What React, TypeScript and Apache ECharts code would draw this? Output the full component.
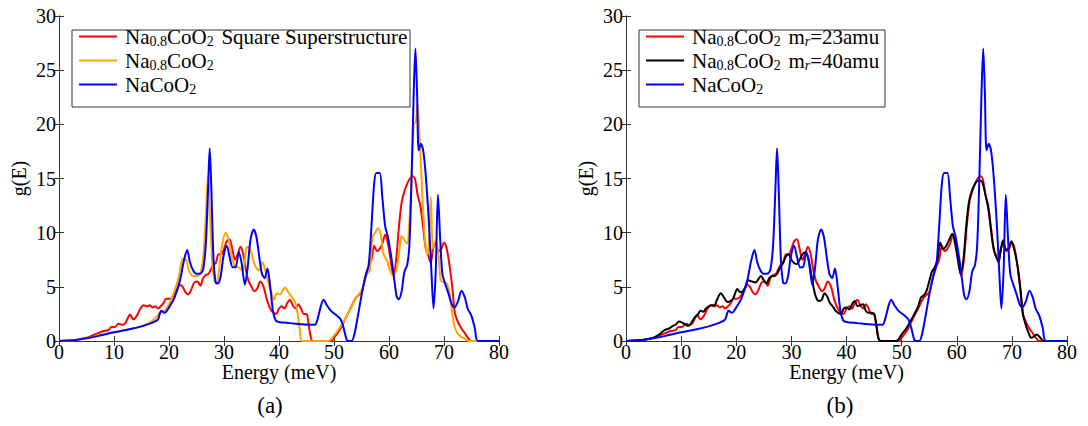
import React, { useEffect, useRef } from "react";
import * as echarts from "echarts";

type P = [number, number];

const nameSquare = "Na0.8CoO2 Square Superstructure";
const nameNa08 = "Na0.8CoO2";
const nameNa1 = "NaCoO2";
const nameM23 = "Na0.8CoO2 m_r=23amu";
const nameM40 = "Na0.8CoO2 m_r=40amu";

const naCoO2: P[] = [
  [0, 0], [3, 0.1], [5, 0.25], [7, 0.45], [10, 0.8], [13, 1.1], [15, 1.35], [17, 1.7], [18, 2.0], [18.6, 2.8], [19.2, 2.6],
  [20, 3.1], [21, 4.0], [22, 5.6], [22.7, 7.4], [23.3, 8.4], [23.8, 7.3], [24.4, 6.5], [25, 6.2], [25.6, 6.2], [26.2, 6.6],
  [26.7, 9], [27.1, 14], [27.4, 17.8], [27.7, 14], [28.1, 7.5], [28.5, 5.4], [28.9, 5.3], [29.4, 6], [29.9, 7.8], [30.5, 8.8],
  [31, 7.8], [31.6, 6.8], [32.1, 6.8], [32.7, 8.2], [33.2, 7.2], [33.8, 5.2], [34.3, 6.8], [34.8, 9.3], [35.4, 10.3], [35.9, 9.6],
  [36.4, 7.8], [36.9, 6.2], [37.4, 5.8], [37.9, 6.7], [38.4, 5], [38.9, 2.8], [39.4, 1.9], [40, 1.75], [42, 1.65], [44, 1.55],
  [46.5, 1.5], [47, 2.0], [47.6, 3.2], [48.1, 3.8], [48.7, 3.3], [49.4, 2.8], [50.4, 2.4], [51.2, 2.0], [51.7, 1.3], [52.3, 0.1],
  [52.6, 0], [53.2, 0], [53.7, 0.6], [54.3, 2.2], [55, 4.2], [55.7, 5.9], [56.3, 7], [56.8, 10.5], [57.3, 14.5], [57.7, 15.5],
  [58.3, 15.5], [58.8, 13.2], [59.3, 10.6], [59.8, 9.6], [60.4, 7.8], [61, 5.5], [61.4, 4.1], [61.8, 3.85], [62.3, 4.6], [62.8, 6.4],
  [63.3, 7.0], [63.7, 8.8], [64.1, 15], [64.5, 23], [64.8, 27], [65.1, 23], [65.4, 17.6], [65.8, 18.2], [66.3, 17.3], [66.8, 14.5],
  [67.3, 10.5], [67.7, 6.5], [68.1, 3.0], [68.5, 6.5], [68.9, 13.5], [69.3, 9.5], [69.7, 6.2], [70.2, 5.3], [70.8, 4.4], [71.4, 3.4],
  [71.9, 3.1], [72.5, 3.6], [73.2, 4.65], [73.8, 4.0], [74.3, 3.0], [75, 2.3], [75.6, 1.2], [76.2, 0], [80, 0],
];

const na08CoO2: P[] = [
  [0, 0], [3, 0.1], [5, 0.25], [7, 0.45], [10, 0.8], [13, 1.1], [15, 1.35], [16.5, 1.7], [17.5, 2.1], [18.3, 2.6], [19.2, 2.8],
  [20, 3.4], [21, 4.6], [21.8, 6], [22.5, 7.6], [23.1, 7.5], [23.7, 6.4], [24.4, 6.0], [25.2, 6.0], [25.8, 6.4], [26.3, 8.2],
  [26.8, 12.5], [27.1, 15.3], [27.5, 11], [27.9, 7], [28.3, 5.5], [28.7, 5.4], [29.2, 7], [29.7, 9.0], [30.3, 10.0], [30.8, 9.5],
  [31.4, 7.8], [32, 6.9], [32.7, 6.8], [33.4, 6.5], [33.8, 7.5], [34.2, 8.7], [34.7, 8.6], [35.3, 7.5], [35.8, 6.8], [36.4, 6.5],
  [37, 7.3], [37.5, 6.5], [38, 5.5], [38.6, 4.5], [39.1, 3.8], [39.6, 4.4], [40.2, 4.3], [40.7, 4.7], [41.1, 4.95], [41.7, 4.5],
  [42.4, 4.0], [43, 3.5], [43.4, 2.5], [43.8, 1.0], [44.2, 0], [49, 0], [50, 0.5], [51, 1.2], [52, 2.0], [53, 3.0], [54, 4.0],
  [54.8, 4.5], [55.4, 5.2], [56, 6.2], [56.5, 6.5], [57, 9.6], [57.5, 10.0], [58, 10.4], [58.5, 9.8], [59, 8.0], [59.6, 7.5],
  [60.2, 6.5], [60.8, 6.0], [61.3, 6.5], [61.8, 8.0], [62.3, 9.7], [62.8, 9.3], [63.3, 9.0], [63.7, 11], [64.1, 15], [64.5, 20],
  [64.9, 20.3], [65.2, 22], [65.6, 18.5], [66.1, 13], [66.6, 9], [67.0, 8], [67.3, 9.5], [67.6, 13.3], [68, 8.5], [68.5, 9.3],
  [69, 8], [69.4, 5.6], [70, 5.4], [70.5, 5.3], [71, 4.5], [71.5, 2.5], [72, 1.2], [72.8, 0.5], [73.8, 0.2], [74.5, 0], [80, 0],
];

const squareSuper: P[] = [
  [0, 0], [3, 0.1], [5, 0.3], [6, 0.5], [7, 0.7], [8, 0.9], [9, 1.0], [9.5, 1.3], [10.2, 1.3], [10.8, 1.6], [11.5, 1.5], [12, 1.6],
  [12.5, 2.1], [12.9, 2.45], [13.5, 2.0], [14.1, 2.3], [14.8, 3.0], [15.4, 3.3], [16, 3.2], [16.5, 3.3], [17, 3.1], [17.5, 3.2],
  [18, 3.0], [18.5, 3.2], [19, 3.5], [19.5, 3.9], [20, 3.9], [20.5, 4.0], [21, 4.3], [21.5, 4.8], [22, 5.2], [22.5, 5.0], [23, 4.5],
  [23.5, 4.3], [24, 4.7], [24.6, 5.4], [25.2, 5.5], [25.7, 5.1], [26.2, 5.8], [26.7, 6.1], [27.2, 6.2], [27.6, 6.6], [28, 7.0],
  [28.5, 7.2], [29, 8.0], [29.5, 8.0], [30, 8.5], [30.5, 9.2], [31, 9.4], [31.5, 8.5], [32, 7.5], [32.5, 8.0], [33, 8.7],
  [33.5, 8.0], [34, 6.5], [34.5, 5.5], [35, 5.0], [35.5, 4.6], [36, 4.8], [36.6, 5.5], [37.2, 5.0], [37.8, 3.8], [38.4, 3.0],
  [39, 2.6], [39.5, 2.5], [40, 3.0], [40.5, 3.2], [41, 3.0], [41.5, 3.5], [42, 3.8], [42.5, 3.3], [43, 3.0], [43.5, 3.4], [44, 3.0],
  [44.5, 2.5], [45, 2.5], [45.4, 1.5], [45.8, 0.3], [46.2, 0], [49.5, 0], [50, 0.3], [51, 1.0], [52, 2.0], [53, 3.0], [54, 4.0],
  [55, 4.5], [55.5, 5.5], [56, 6.5], [56.8, 7.5], [57.3, 8.8], [57.8, 8.3], [58.3, 8.5], [58.8, 9.0], [59.3, 9.8], [59.8, 9.0],
  [60.3, 7.5], [60.8, 6.0], [61.3, 7.5], [61.8, 10.5], [62.3, 12.8], [62.8, 13.8], [63.3, 14.5], [63.8, 15.0], [64.3, 15.2],
  [64.7, 15.0], [65.2, 13.5], [65.7, 12.5], [66.2, 10.5], [66.7, 8.5], [67.2, 7.8], [67.6, 7.2], [68, 8.5], [68.5, 9.0], [69, 8.3],
  [69.5, 8.5], [70, 9.1], [70.5, 8.5], [71, 7.0], [71.5, 5.0], [72, 2.5], [72.5, 1.8], [73, 1.3], [73.8, 0.7], [74.5, 0.2], [75, 0], [80, 0],
];

const mr40: P[] = [
  [0, 0], [3, 0.1], [5, 0.3], [6, 0.6], [7, 1.0], [8, 1.2], [8.5, 1.4], [9, 1.5], [9.6, 1.8], [10.2, 1.7], [10.8, 1.5], [11.4, 1.4],
  [12, 1.8], [12.5, 2.2], [13, 2.4], [13.5, 2.8], [14, 2.7], [14.5, 3.0], [15, 3.2], [15.5, 3.3], [16, 3.3], [16.5, 3.8], [17.2, 4.4],
  [17.8, 4.0], [18.4, 3.6], [19, 3.7], [19.5, 4.0], [20.2, 4.8], [20.7, 4.5], [21.2, 4.6], [21.7, 5.0], [22.2, 5.6], [22.8, 5.5],
  [23.5, 5.4], [24, 5.7], [24.5, 6.0], [25, 5.6], [25.5, 5.3], [26, 5.8], [26.5, 6.0], [27, 6.0], [27.5, 6.3], [28, 6.8], [28.5, 7.2],
  [29, 7.8], [29.5, 8.0], [30, 7.5], [30.5, 7.2], [31, 7.1], [31.5, 7.5], [32, 8.0], [32.5, 8.2], [33, 7.8], [33.5, 6.5], [34, 5.0],
  [34.5, 4.0], [35, 3.7], [35.5, 3.8], [36, 4.4], [36.5, 4.1], [37, 3.5], [37.5, 3.2], [38, 2.8], [38.5, 2.6], [39, 2.5], [39.5, 3.0],
  [40, 3.1], [40.5, 2.9], [41, 3.4], [41.5, 3.7], [42, 3.2], [42.5, 3.3], [43, 3.4], [43.5, 2.8], [44, 2.6], [44.5, 2.6], [45, 2.5],
  [45.4, 1.5], [45.8, 0.2], [46.2, 0], [49, 0], [50, 0.6], [51, 1.3], [52, 2.2], [53, 3.2], [53.5, 4.0], [54, 4.2], [54.5, 4.6],
  [55, 5.5], [55.5, 6.4], [56, 6.8], [56.5, 7.5], [57, 9.1], [57.5, 8.5], [58, 8.7], [58.5, 9.2], [59.2, 9.9], [59.7, 9.0], [60.2, 7.5],
  [60.7, 6.2], [61.2, 7.5], [61.7, 10.5], [62.2, 12.8], [62.7, 13.8], [63.3, 14.5], [63.8, 14.8], [64.3, 14.8], [64.7, 14.6],
  [65.2, 13.5], [65.7, 12.3], [66.2, 10.3], [66.7, 8.5], [67.2, 7.7], [67.6, 7.4], [68, 8.5], [68.4, 9.3], [68.9, 8.4], [69.4, 8.6],
  [69.9, 9.2], [70.4, 8.5], [71, 7.0], [71.5, 5.0], [72, 2.5], [72.5, 1.5], [73, 0.8], [73.5, 0.3], [74, 0.4], [74.5, 0.6], [75, 0.4],
  [75.5, 0.1], [76, 0], [80, 0],
];

const FONT = "Liberation Serif";
const AXIS_COLOR = "#333";

const legendRich = {
  n: { fontFamily: FONT, fontSize: 21, lineHeight: 24, color: "#000" },
  g: { fontFamily: FONT, fontSize: 10, lineHeight: 10, color: "#000" },
  s: { fontFamily: FONT, fontSize: 14, lineHeight: 11, verticalAlign: "bottom", color: "#000" },
  si: { fontFamily: FONT, fontSize: 14, lineHeight: 11, verticalAlign: "bottom", fontStyle: "italic", color: "#000" },
};

function legendLabel(name: string): string {
  const na08 = "{n|Na}{s|0.8}{n|CoO}{s|2}";
  if (name === nameSquare) return na08 + "{n| }{g| }{n|Square Superstructure}";
  if (name === nameNa08) return na08;
  if (name === nameNa1) return "{n|NaCoO}{s|2}";
  if (name === nameM23) return na08 + "{n| }{g| }{n|m}{si|r}{n|=23amu}";
  if (name === nameM40) return na08 + "{n| }{g| }{n|m}{si|r}{n|=40amu}";
  return name;
}

const axisLineStyle = { show: true, lineStyle: { color: AXIS_COLOR, width: 1 } };
const axisTickStyle = { show: true, inside: true, length: 5, lineStyle: { color: AXIS_COLOR } };
const labelStyle = { show: true, margin: 3, fontFamily: FONT, fontSize: 20, lineHeight: 16, color: "#000" };
const nameStyle = { fontFamily: FONT, fontSize: 20, lineHeight: 20, color: "#000" };

function xAxes(grid: number) {
  const common = {
    gridIndex: grid, type: "value", min: 0, max: 80, interval: 10,
    splitLine: { show: false }, axisLine: axisLineStyle, axisTick: axisTickStyle,
  };
  return [
    {
      ...common, position: "bottom",
      name: "Energy (meV)", nameLocation: "middle", nameGap: 21, nameMoveOverlap: false,
      nameTextStyle: nameStyle, axisLabel: labelStyle,
    },
    { ...common, position: "top", axisLabel: { show: false } },
  ];
}

function yAxes(grid: number) {
  const common = {
    gridIndex: grid, type: "value", min: 0, max: 30, interval: 5,
    splitLine: { show: false }, axisLine: axisLineStyle, axisTick: axisTickStyle,
  };
  return [
    {
      ...common, position: "left",
      name: "g(E)", nameLocation: "middle", nameRotate: 90, nameGap: 30, nameMoveOverlap: false,
      nameTextStyle: nameStyle, axisLabel: labelStyle,
    },
    { ...common, position: "right", axisLabel: { show: false } },
  ];
}

function lineSeries(name: string, data: P[], color: string, xi: number, yi: number, z: number) {
  return {
    type: "line", name, data, xAxisIndex: xi, yAxisIndex: yi,
    showSymbol: false, symbol: "none", smooth: 0.3, z,
    lineStyle: { color, width: 2 }, itemStyle: { color },
  };
}

function legendFor(names: string[], left: number) {
  return {
    data: names, orient: "vertical", left, top: 26,
    icon: "rect", itemWidth: 38, itemHeight: 2, itemGap: 1.5, padding: 0,
    selectedMode: false, formatter: legendLabel,
    textStyle: { fontFamily: FONT, padding: [0, 0, 0, 3], rich: legendRich },
  };
}

export default function App() {
  const ref = useRef<HTMLDivElement>(null);

  useEffect(() => {
    if (!ref.current) return;
    const chart = echarts.init(ref.current, null, { renderer: "svg" });
    const option: any = {
      animation: false,
      backgroundColor: "#fff",
      grid: [
        { left: 59, top: 16, width: 440, height: 325 },
        { left: 626, top: 16, width: 441, height: 325 },
      ],
      xAxis: [...xAxes(0), ...xAxes(1)],
      yAxis: [...yAxes(0), ...yAxes(1)],
      legend: [
        legendFor([nameSquare, nameNa08, nameNa1], 79),
        legendFor([nameM23, nameM40, nameNa1], 646),
      ],
      graphic: [
        { type: "rect", shape: { x: 72, y: 30, width: 338, height: 77 }, style: { fill: "none", stroke: AXIS_COLOR, lineWidth: 1 }, z: 100 },
        { type: "rect", shape: { x: 639, y: 30, width: 246, height: 77 }, style: { fill: "none", stroke: AXIS_COLOR, lineWidth: 1 }, z: 100 },
        { type: "text", x: 270, y: 405, style: { text: "(a)", fontFamily: FONT, fontSize: 23, fill: "#000", align: "center", verticalAlign: "middle" } },
        { type: "text", x: 840, y: 405, style: { text: "(b)", fontFamily: FONT, fontSize: 23, fill: "#000", align: "center", verticalAlign: "middle" } },
      ],
      series: [
        lineSeries(nameSquare, squareSuper, "#ff0000", 0, 0, 2),
        lineSeries(nameNa08, na08CoO2, "#ffa500", 0, 0, 3),
        lineSeries(nameNa1, naCoO2, "#0000ff", 0, 0, 4),
        lineSeries(nameM23, squareSuper, "#ff0000", 2, 2, 2),
        lineSeries(nameM40, mr40, "#000000", 2, 2, 3),
        lineSeries(nameNa1, naCoO2, "#0000ff", 2, 2, 4),
      ],
    };
    chart.setOption(option);
    return () => chart.dispose();
  }, []);

  return (
    <div
      ref={ref}
      style={{ position: "fixed", left: 0, top: 0, width: 1088, height: 426, background: "#fff" }}
    />
  );
}
